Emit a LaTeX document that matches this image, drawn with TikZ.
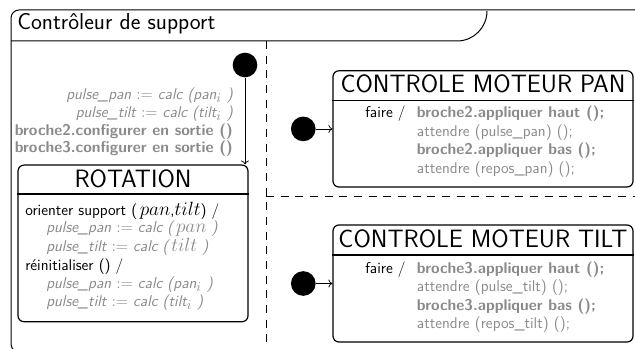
\documentclass[tikz,border=0pt]{standalone}
\usepackage{amsmath}
\usetikzlibrary{positioning,arrows.meta}
\colorlet{actgray}{black!46}
\newcommand{\txtsize}{\fontsize{11.7}{14}\selectfont}
\newcommand{\headsize}{\fontsize{18.8}{22}\selectfont}
\newcommand{\mvar}[1]{{\fontsize{14.5}{14}\selectfont$#1$}}
\newcommand{\idx}{{\fontsize{14.5}{14}\selectfont$_i$}}

\begin{document}
\begin{tikzpicture}[
      x=0.75pt, y=0.75pt,
      font=\sffamily\txtsize,
      frame/.style={draw, line width=0.75pt},
      statebox/.style={draw, line width=0.9pt, rounded corners=4.5pt,
                       inner sep=0pt},
      init/.style={circle, fill=black, inner sep=0pt, minimum size=18.5pt},
      trans/.style={-{To[length=3pt,width=6pt]}, line width=0.55pt},
      region/.style={line width=0.7pt, dash pattern=on 6pt off 5pt},
      title/.style={font=\sffamily\headsize, anchor=base, inner sep=0pt},
      txt/.style={font=\sffamily\txtsize, anchor=base west, inner sep=0pt},
      act/.style={txt, text=actgray},
      actit/.style={act, font=\sffamily\itshape\txtsize},
      actbf/.style={act, font=\sffamily\bfseries\txtsize},
      lbl/.style={anchor=base east}
    ]

    \clip (0,0) rectangle (635,-349);

    % outer composite state, cut by the page edge
    \draw[frame, rounded corners=6pt] (650,-352) -- (11,-352) -- (11,-10) -- (650,-10);
    \draw[frame] (11,-41) -- (457,-41) arc[start angle=-90, end angle=0, radius=30];
    \node[font=\sffamily\LARGE, anchor=base west,
          inner sep=0pt] (ctrl) at (17,-30) {Contrôleur de support};

    % concurrent regions
    \draw[region] (266,-41) -- (266,-349);
    \draw[region] (266,-196) -- (635,-196);

    % left region: ROTATION
    \node[statebox, minimum width=172.5pt, minimum height=117.5pt] (rot)
      at (133,-243.4) {};
    \draw[line width=0.9pt] (rot.west |- 0,-194) -- (rot.east |- 0,-194);
    \node[title] (rottitle) at (133,-188) {ROTATION};
    \node[txt]   (rot1) at (25,-215)   {orienter support (\,\mvar{pan},\mvar{tilt}) /};
    \node[actit] (rot2) at (46,-232.7) {pulse\_pan $:=$ calc (\,\mvar{pan}\ )};
    \node[actit] (rot3) at (46,-251.5) {pulse\_tilt $:=$ calc (\,\mvar{tilt}\ )};
    \node[txt]   (rot4) at (25,-270)   {réinitialiser () /};
    \node[actit] (rot5) at (46,-288.5) {pulse\_pan $:=$ calc (pan\idx\ )};
    \node[actit] (rot6) at (46,-306.7) {pulse\_tilt $:=$ calc (tilt\idx\ )};

    \node[init] (init1) at (245,-65) {};
    \draw[trans] (init1) -- (init1 |- rot.north);
    \node[actit, lbl] (eff1) at (233,-100) {pulse\_pan $:=$ calc (pan\idx\ )};
    \node[actit, lbl] (eff2) at (233,-118) {pulse\_tilt $:=$ calc (tilt\idx\ )};
    \node[actbf, lbl] (eff3) at (233,-135.5) {broche2.configurer en sortie ()};
    \node[actbf, lbl] (eff4) at (233,-153) {broche3.configurer en sortie ()};

    % upper right region: pan motor
    \node[statebox, minimum width=225pt, minimum height=87.2pt] (pan)
      at (483,-128.9) {};
    \draw[line width=0.9pt] (pan.west |- 0,-100.7) -- (pan.east |- 0,-100.7);
    \node[title] (pantitle) at (483,-93) {CONTROLE MOTEUR PAN};
    \node[txt]   (pan0) at (365,-118)   {faire /};
    \node[actbf] (pan1) at (416.7,-118) {broche2.appliquer haut ();};
    \node[act]   (pan2) at (416.7,-136.7) {attendre (pulse\_pan) ();};
    \node[actbf] (pan3) at (416.7,-155) {broche2.appliquer bas ();};
    \node[act]   (pan4) at (416.7,-173.5) {attendre (repos\_pan) ();};
    \node[init, left=12.4pt of pan.west] (init2) {};
    \draw[trans] (init2) -- (pan);

    % lower right region: tilt motor
    \node[statebox, minimum width=225pt, minimum height=87.8pt] (tilt)
      at (483,-283.5) {};
    \draw[line width=0.9pt] (tilt.west |- 0,-255) -- (tilt.east |- 0,-255);
    \node[title] (tilttitle) at (483,-247.3) {CONTROLE MOTEUR TILT};
    \node[txt]   (tilt0) at (365,-273.3)   {faire /};
    \node[actbf] (tilt1) at (416.7,-273.3) {broche3.appliquer haut ();};
    \node[act]   (tilt2) at (416.7,-291.7) {attendre (pulse\_tilt) ();};
    \node[actbf] (tilt3) at (416.7,-310)   {broche3.appliquer bas ();};
    \node[act]   (tilt4) at (416.7,-328.3) {attendre (repos\_tilt) ();};
    \node[init, left=12.4pt of tilt.west] (init3) {};
    \draw[trans] (init3) -- (tilt);

  \end{tikzpicture}
\end{document}
